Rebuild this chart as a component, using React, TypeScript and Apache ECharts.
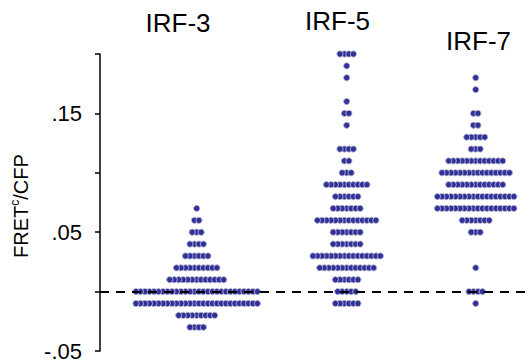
import { useEffect, useRef } from 'react';
import * as echarts from 'echarts';

// Groups and their horizontal positions (x-axis units)
const groups = ['IRF-3', 'IRF-5', 'IRF-7'];
const groupX = [0.673, 1.717, 2.615];

// Binned FRETc/CFP values and number of cells per bin
const irf3Bins = [0.07, 0.06, 0.05, 0.04, 0.03, 0.02, 0.01, 0, -0.01, -0.02, -0.03];
const irf3Counts = [1, 2, 3, 4, 6, 10, 13, 28, 28, 9, 4];

const irf5Bins = [0.2, 0.19, 0.18, 0.16, 0.15, 0.14, 0.12, 0.11, 0.1, 0.09, 0.08, 0.07, 0.06, 0.05, 0.04, 0.03, 0.02, 0.01, 0, -0.01];
const irf5Counts = [4, 1, 1, 1, 2, 1, 4, 2, 3, 10, 6, 7, 14, 7, 7, 16, 13, 6, 5, 6];

const irf7Bins = [0.18, 0.17, 0.15, 0.14, 0.13, 0.12, 0.11, 0.1, 0.09, 0.08, 0.07, 0.06, 0.05, 0.02, 0, -0.01];
const irf7Counts = [1, 1, 2, 2, 5, 3, 13, 16, 13, 18, 18, 7, 3, 1, 4, 1];

// Y axis tick labels
const yLabelValues = [-0.05, 0.05, 0.15];
const yLabelTexts = ['-.05', '.05', '.15'];
const referenceLine = 0;

const FONT = '"Liberation Sans", Arial, Helvetica, sans-serif';
const DOT_STEP = 4.5;
const DOT_R = 3.1;

export default function App() {
  const ref = useRef<HTMLDivElement>(null);

  useEffect(() => {
    if (!ref.current) return;
    const chart = echarts.init(ref.current, null, { renderer: 'svg' });
    const binsList = [irf3Bins, irf5Bins, irf7Bins];
    const countsList = [irf3Counts, irf5Counts, irf7Counts];

    const swarmSeries = groups.map((name, g) => ({
      type: 'custom',
      name,
      z: 3,
      encode: { x: 0, y: 1 },
      data: binsList[g].map((v, i) => [groupX[g], v, countsList[g][i]]),
      renderItem: (_params: any, api: any) => {
        const p = api.coord([api.value(0), api.value(1)]);
        const n = api.value(2) as number;
        const mid = (n - 1) / 2;
        const idx = Array.from({ length: n }, (_, i) => i).sort(
          (a, b) => Math.abs(a - mid) - Math.abs(b - mid)
        );
        return {
          type: 'group',
          children: idx.map((i) => ({
            type: 'circle',
            shape: { cx: p[0] + (i - mid) * DOT_STEP, cy: p[1], r: DOT_R },
            style: { fill: '#30309a', stroke: '#b4b4cc', lineWidth: 0.9 },
          })),
        };
      },
    }));

    const titleY = [22.5, 21, 41];
    const titleX = [178, 337.5, 478.5];

    chart.setOption({
      animation: false,
      grid: { left: 100, right: 0, top: 54, bottom: 11, containLabel: false },
      xAxis: { type: 'value', min: 0, max: 3, show: false },
      yAxis: {
        type: 'value',
        min: -0.05,
        max: 0.2,
        interval: 0.05,
        splitLine: { show: false },
        axisLine: { show: true, lineStyle: { color: '#000', width: 1.5 } },
        axisTick: { show: true, length: 5, inside: false, lineStyle: { color: '#000', width: 1.5 } },
        axisLabel: {
          color: '#000',
          fontSize: 22,
          fontFamily: FONT,
          margin: 18,
          formatter: (v: number) => {
            const k = yLabelValues.findIndex((lv) => Math.abs(lv - v) < 1e-6);
            return k >= 0 ? yLabelTexts[k] : '';
          },
        },
      },
      graphic: [
        ...groups.map((name, g) => ({
          type: 'text',
          x: titleX[g],
          y: titleY[g],
          style: {
            text: name,
            fontSize: 26,
            fontFamily: FONT,
            fill: '#000',
            align: 'center',
            verticalAlign: 'middle',
          },
        })),
        {
          type: 'text',
          x: 20,
          y: 206,
          rotation: Math.PI / 2,
          style: {
            text: '{a|FRET}{s|c}{a|/CFP}',
            align: 'center',
            verticalAlign: 'middle',
            rich: {
              a: { fontSize: 20, fontFamily: FONT, fill: '#000', lineHeight: 22, verticalAlign: 'bottom' },
              s: { fontSize: 12, fontFamily: FONT, fill: '#000', lineHeight: 12, verticalAlign: 'top' },
            },
          },
        },
      ],
      series: [
        {
          type: 'line',
          data: [],
          z: 1,
          silent: true,
          markLine: {
            silent: true,
            symbol: 'none',
            label: { show: false },
            lineStyle: { color: '#000', width: 2, type: [9, 7] },
            data: [{ yAxis: referenceLine }],
          },
        },
        ...swarmSeries,
      ],
    });

    return () => chart.dispose();
  }, []);

  return (
    <div
      ref={ref}
      style={{ position: 'fixed', left: 0, top: 0, width: 531, height: 362, background: '#fff' }}
    />
  );
}
